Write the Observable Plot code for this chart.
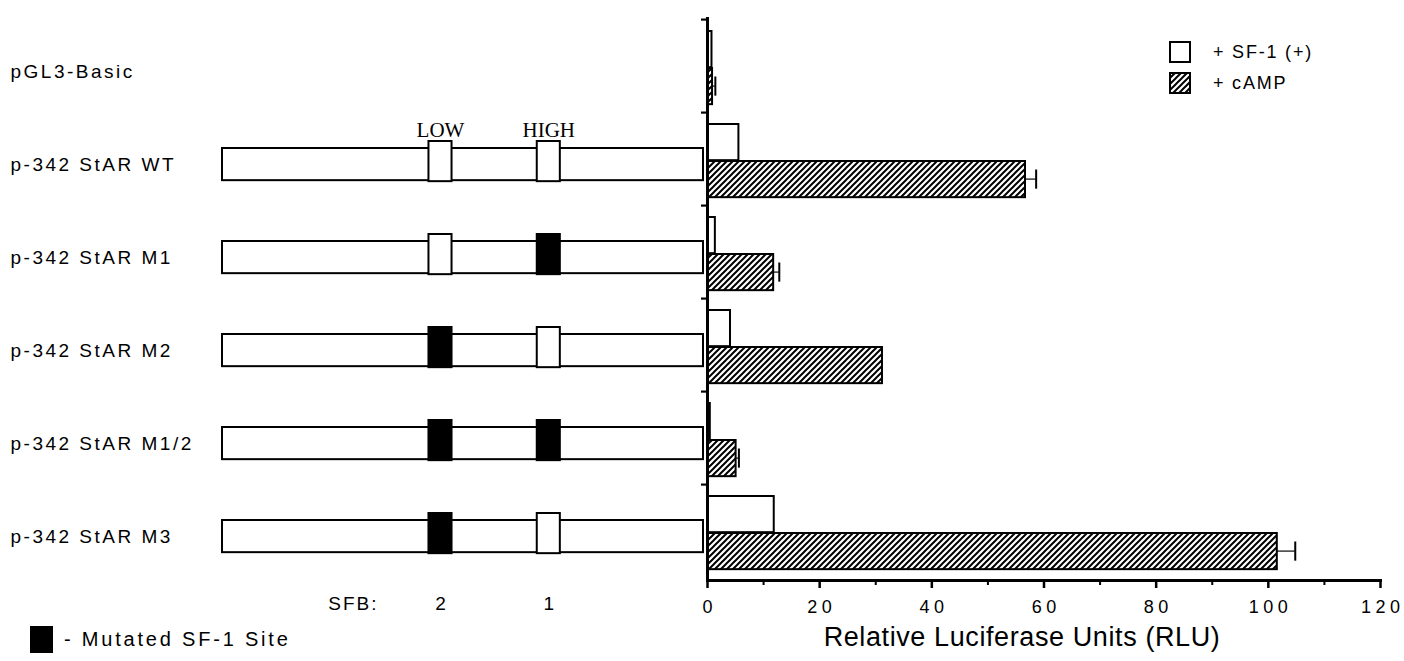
<!DOCTYPE html>
<html><head><meta charset="utf-8">
<script src="https://cdn.jsdelivr.net/npm/d3@7"></script>
<script src="https://cdn.jsdelivr.net/npm/@observablehq/plot@0.6"></script>
<style>
html,body{margin:0;padding:0;background:#fff;}
#wrap{position:relative;width:1404px;height:661px;background:#fff;}
#wrap svg{position:absolute;top:0;left:0;}
</style></head><body><div id="wrap"></div>
<script>
// ---- data ----
const constructs = ["pGL3-Basic","p-342 StAR WT","p-342 StAR M1","p-342 StAR M2","p-342 StAR M1/2","p-342 StAR M3"];
const sf1Values  = [0.8, 5.6, 1.4, 4.1, 0.5, 11.9];
const campValues = [0.9, 56.7, 11.8, 31.2, 5.1, 101.6];
const campErrors = [0.5, 1.9, 1.0, 0, 0.5, 3.2];
const xTicks = [0, 20, 40, 60, 80, 100, 120];
const xMinorTicks = [10, 30, 50, 70, 90, 110];
const promoter = [-342, 0];
const siteNames = ["LOW", "HIGH"];
const siteNumbers = ["2", "1"];
const sitePositions = [-187, -110];
const siteHalfWidth = 8.2;
const diagramConstructs = constructs.slice(1);
const mutated = [[false,false],[false,true],[true,false],[true,true],[true,false]];
const legendLabels = ["+ SF-1 (+)", "+ cAMP"];
const mutatedLegend = "- Mutated SF-1 Site";
const sfbLabel = "SFB:";
const xLabel = "Relative Luciferase Units (RLU)";

// ---- derived tables ----
const rows = constructs.map((c, i) => ({construct: c, sf1: sf1Values[i], camp: campValues[i], err: campErrors[i]}));
const errRows = rows.filter(d => d.err > 0);
const diag = diagramConstructs.map(c => ({construct: c}));
const siteRows = diagramConstructs.flatMap((c, i) => sitePositions.map((p, j) => ({construct: c, pos: p, name: siteNames[j], num: siteNumbers[j], mutated: mutated[i][j]})));
const siteLabelRows = sitePositions.map((p, j) => ({pos: p, name: siteNames[j], num: siteNumbers[j]}));

// ---- layout ----
const W = 1404, H = 661, mT = 17, mB = 81;
const bw = (H - mT - mB) / constructs.length;
const FONT = "'Liberation Sans', Arial, Helvetica, sans-serif";

function hatchDefs() {
  const defs = d3.create("svg:defs");
  const p = defs.append("pattern").attr("id", "hatch").attr("patternUnits", "userSpaceOnUse")
    .attr("width", 6).attr("height", 6);
  p.append("rect").attr("width", 6).attr("height", 6).attr("fill", "white");
  p.append("path").attr("d", "M-1.5,1.5 L1.5,-1.5 M0,6 L6,0 M4.5,7.5 L7.5,4.5")
    .attr("stroke", "black").attr("stroke-width", 2);
  return defs.node();
}
function legendMark() {
  const g = d3.create("svg:g").attr("font-size", 18).attr("letter-spacing", 1.8)
    .attr("font-family", FONT).attr("text-anchor", "start");
  legendLabels.forEach((lab, i) => {
    g.append("rect").attr("x", 1170).attr("y", 42 + i * 31).attr("width", 20).attr("height", 20)
      .attr("fill", i ? "url(#hatch)" : "white").attr("stroke", "black").attr("stroke-width", 2);
    g.append("text").attr("x", 1213).attr("y", 52 + i * 31).attr("dy", "0.35em")
      .attr("text-anchor", "start").attr("fill", "black").text(lab);
  });
  return g.node();
}
function mutatedLegendMark() {
  const g = d3.create("svg:g").attr("font-family", FONT).attr("text-anchor", "start");
  g.append("rect").attr("x", 30).attr("y", 626).attr("width", 23).attr("height", 27).attr("fill", "black");
  g.append("text").attr("x", 64).attr("y", 639).attr("dy", "0.35em").attr("font-size", 20)
    .attr("text-anchor", "start").attr("letter-spacing", 2.8).attr("fill", "black").text(mutatedLegend);
  return g.node();
}

// ---- left: promoter constructs ----
const left = Plot.plot({
  width: 707, height: H, marginTop: mT, marginBottom: mB, marginLeft: 222, marginRight: 4,
  x: {domain: promoter, axis: null},
  y: {domain: constructs, type: "band", padding: 0, axis: null},
  style: {fontFamily: FONT, background: "transparent", overflow: "visible", color: "black"},
  marks: [
    Plot.text(constructs, {y: d => d, text: d => d, frameAnchor: "left", dx: -212, dy: 5, textAnchor: "start", fontSize: 19, fill: "black"}),
    Plot.barX(diag, {x1: () => promoter[0], x2: () => promoter[1], y: "construct", fill: "white", stroke: "black", strokeWidth: 2, insetTop: 35, insetBottom: bw - 68}),
    Plot.barX(siteRows.filter(d => !d.mutated), {x1: d => d.pos - siteHalfWidth, x2: d => d.pos + siteHalfWidth, y: "construct", fill: "white", stroke: "black", strokeWidth: 2, insetTop: 28, insetBottom: bw - 69}),
    Plot.barX(siteRows.filter(d => d.mutated), {x1: d => d.pos - siteHalfWidth, x2: d => d.pos + siteHalfWidth, y: "construct", fill: "black", stroke: "black", strokeWidth: 2, insetTop: 28, insetBottom: bw - 69}),
    Plot.text(siteLabelRows, {x: "pos", y: () => constructs[1], text: "name", dy: -30, fontFamily: "'Liberation Serif', 'Times New Roman', serif", fontSize: 21, fill: "black"}),
    Plot.text(siteLabelRows, {x: "pos", y: () => constructs[5], text: "num", dy: 72, fontSize: 19, fill: "black"}),
    Plot.text([sfbLabel], {x: () => sitePositions[0], y: () => constructs[5], text: d => d, dy: 72, dx: -62, textAnchor: "end", fontSize: 19, fill: "black"}),
    mutatedLegendMark
  ]
});

// ---- right: luciferase bars ----
const right = Plot.plot({
  width: W, height: H, marginTop: mT, marginBottom: mB, marginLeft: 707, marginRight: 24,
  x: {domain: [0, 120], axis: null},
  y: {domain: constructs, type: "band", padding: 0, axis: null},
  style: {fontFamily: FONT, background: "transparent", overflow: "visible", color: "black"},
  marks: [
    hatchDefs,
    Plot.barX(rows, {x1: 0, x2: "sf1", y: "construct", fill: "white", stroke: "black", strokeWidth: 2, insetTop: 11, insetBottom: bw - 48}),
    Plot.barX(rows, {x1: 0, x2: "camp", y: "construct", fill: "url(#hatch)", stroke: "black", strokeWidth: 2, insetTop: 48, insetBottom: bw - 85}),
    Plot.barX(errRows, {x1: "camp", x2: d => d.camp + d.err, y: "construct", fill: "black", insetTop: 65.5, insetBottom: bw - 67.5}),
    Plot.tickX(errRows, {x: d => d.camp + d.err, y: "construct", stroke: "black", strokeWidth: 2, insetTop: 56.5, insetBottom: bw - 76.5}),
    Plot.barX(constructs, {x1: 0, x2: 0, y: d => d, fill: "black", insetLeft: -6, insetTop: -1.5, insetBottom: bw - 1.5}),
    Plot.ruleX([0], {stroke: "black", strokeWidth: 3}),
    Plot.frame({anchor: "bottom", stroke: "black", strokeWidth: 3}),
    Plot.axisX({ticks: xTicks, tickSize: 8, tickPadding: 12, fontSize: 18, strokeWidth: 2.5, label: null, stroke: "black", fill: "black"}),
    Plot.axisX({ticks: xMinorTicks, tickSize: 5, strokeWidth: 2, text: null, label: null, stroke: "black"}),
    Plot.text([xLabel], {text: d => d, frameAnchor: "bottom", dy: 65, dx: -22, fontSize: 27, fill: "black"}),
    legendMark
  ]
});

const wrap = document.getElementById("wrap");
wrap.appendChild(left);
wrap.appendChild(right);

d3.select(left).selectAll("text").filter(function() { return constructs.includes(this.textContent); }).attr("letter-spacing", 2.5);
d3.select(left).selectAll("text").filter(function() { return this.textContent === sfbLabel; }).attr("letter-spacing", 2);
d3.select(right).selectAll('g[aria-label="x-axis tick label"] text').attr("letter-spacing", 4.5).attr("dx", 2.2);
d3.select(right).selectAll("text").filter(function() { return this.textContent === xLabel; }).attr("letter-spacing", 0.6);
</script></body></html>
